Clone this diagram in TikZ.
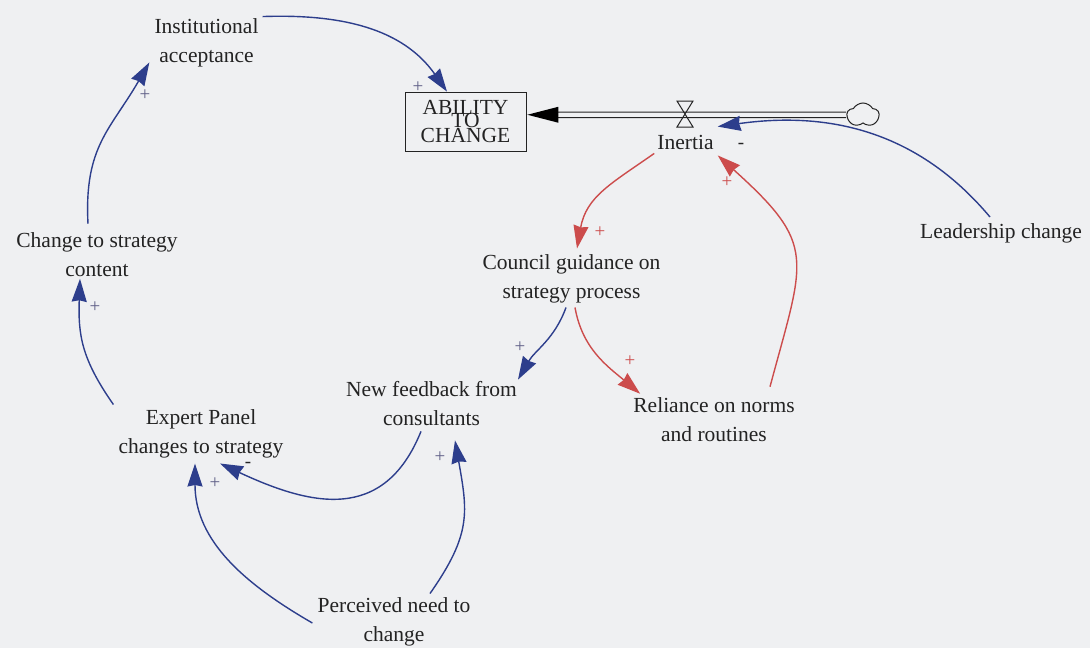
\documentclass[tikz,border=0pt]{standalone}
\usepackage{fontspec}
\setmainfont{Liberation Serif}
\usetikzlibrary{arrows.meta,calc,shapes.symbols}
\definecolor{bgc}{RGB}{239,240,242}
\definecolor{linkblue}{RGB}{45,62,140}
\definecolor{linkred}{RGB}{204,76,76}
\definecolor{signblue}{RGB}{95,95,135}
\definecolor{signred}{RGB}{204,76,76}
\definecolor{txt}{RGB}{35,35,35}
\tikzset{
  var/.style={font=\fontsize{21.5}{29}\selectfont, align=center, inner sep=2pt, text=txt},
  lnk/.style={line width=1.4pt, -{Stealth[length=23pt,width=15pt,inset=1.5pt]}},
  bluelink/.style={lnk, draw=linkblue},
  redlink/.style={lnk, draw=linkred},
  sgn/.style={font=\fontsize{19}{19}\selectfont, inner sep=0pt},
  pipe/.style={draw=txt, line width=1pt}
}
\begin{document}
\begin{tikzpicture}[x=1pt,y=1pt]
\fill[bgc] (0,0) rectangle (1090,-648);
\useasboundingbox (0,0) rectangle (1090,-648);

% variables
\node[var] (inst) at (206.5,-42.5) {Institutional\\acceptance};
\node[draw=txt, line width=0.8pt, minimum width=121pt, minimum height=59pt, inner sep=0pt] (abil) at (465.5,-121.5) {};
\node[var, inner sep=0pt] (abl1) at ($(abil.center)+(0,14.5)$) {ABILITY};
\node[var, inner sep=0pt] (abl2) at ($(abil.center)+(0,1.5)$) {TO};
\node[var, inner sep=0pt] (abl3) at ($(abil.center)+(0,-13.5)$) {CHANGE};
\node[var] (inertia) at (685.5,-142) {Inertia};
\node[var] (lead) at (1001,-233) {Leadership change};
\node[var] (council) at (571.5,-279) {Council guidance on\\strategy process};
\node[var] (reliance) at (714,-420) {Reliance on norms\\and routines};
\node[var] (newfb) at (431.5,-404) {New feedback from\\consultants};
\node[var] (expert) at (201,-434) {Expert Panel\\changes to strategy};
\node[var] (perceived) at (394,-621.5) {Perceived need to\\change};
\node[var] (change) at (97,-254.5) {Change to strategy\\content};

% inflow into the stock: cloud, pipe, valve
\node[cloud, draw=txt, line width=1pt, cloud puffs=5, cloud puff arc=120, minimum width=32pt, minimum height=24pt, inner sep=0pt] (cloud) at (863,-115) {};
\coordinate (valve) at (685,-114);
\draw[pipe] ($(abil.east)+(30,9.5)$) -- ($(cloud.west)+(0,3)$);
\draw[pipe] ($(abil.east)+(30,4)$) -- ($(cloud.west)+(0,-2.5)$);
\fill[black] ($(abil.east)+(1,6.75)$) -- ++(31,8) -- ++(0,-16) -- cycle;
\draw[pipe] ($(valve)+(-8,13)$) -- ($(valve)+(8,13)$) -- ($(valve)+(-8,-13)$) -- ($(valve)+(8,-13)$) -- cycle;

% causal links
\draw[bluelink] ($(inst.north east)+(2,-0.5)$) to[out=2,in=125] ($(abil.north)+(-18.5,0)$);
\draw[bluelink] ($(change.north)+(-9,6.5)$) to[out=93,in=240,looseness=1.15] ($(inst.south west)+(-3,6.5)$);
\draw[bluelink] ($(expert.north west)+(-3,3)$) to[out=125,in=268,looseness=1.1] ($(change.south)+(-17,0)$);
\draw[bluelink] ($(newfb.south)+(-10.5,-3)$) to[out=248,in=335,looseness=1.25] ($(expert.south)+(19,-3)$);
\draw[bluelink] ($(perceived.west)+(-3,-1.5)$) to[out=150,in=270] ($(expert.south)+(-6,-3)$);
\draw[bluelink] ($(perceived.north)+(36,1.5)$) to[out=55,in=280,looseness=1.2] ($(newfb.south)+(23.5,-12)$);
\draw[bluelink] ($(council.south)+(-5.5,-2)$) to[out=250,in=60] ($(newfb.north)+(86.5,0)$);
\draw[redlink] ($(council.south)+(3.5,-2)$) to[out=280,in=140] ($(reliance.north west)+(9,2)$);
\draw[redlink] ($(inertia.south west)+(-1,-2)$) to[out=215,in=80,looseness=1.1] ($(council.north)+(5.5,4)$);
\draw[redlink] ($(reliance.north)+(56,9)$) to[out=75,in=318,looseness=1.45] ($(inertia.south east)+(2,-4)$);
\draw[bluelink] ($(lead.north)+(-11,4)$) to[out=130,in=8] ($(inertia.north east)+(2,6)$);

% link polarities
\node[sgn, text=signblue] (p1) at (418,-87) {+};
\node[sgn, text=signblue] (p2) at (145,-95) {+};
\node[sgn, text=signblue] (p3) at (95,-307) {+};
\node[sgn, text=txt] (p4) at (248,-465) {-};
\node[sgn, text=signblue] (p5) at (215,-483) {+};
\node[sgn, text=signblue] (p6) at (440,-457) {+};
\node[sgn, text=signblue] (p7) at (520,-347) {+};
\node[sgn, text=signred] (p8) at (630,-361) {+};
\node[sgn, text=signred] (p9) at (600,-232) {+};
\node[sgn, text=signred] (p10) at (727,-182) {+};
\node[sgn, text=txt] (p11) at (741,-146) {-};
\end{tikzpicture}
\end{document}
